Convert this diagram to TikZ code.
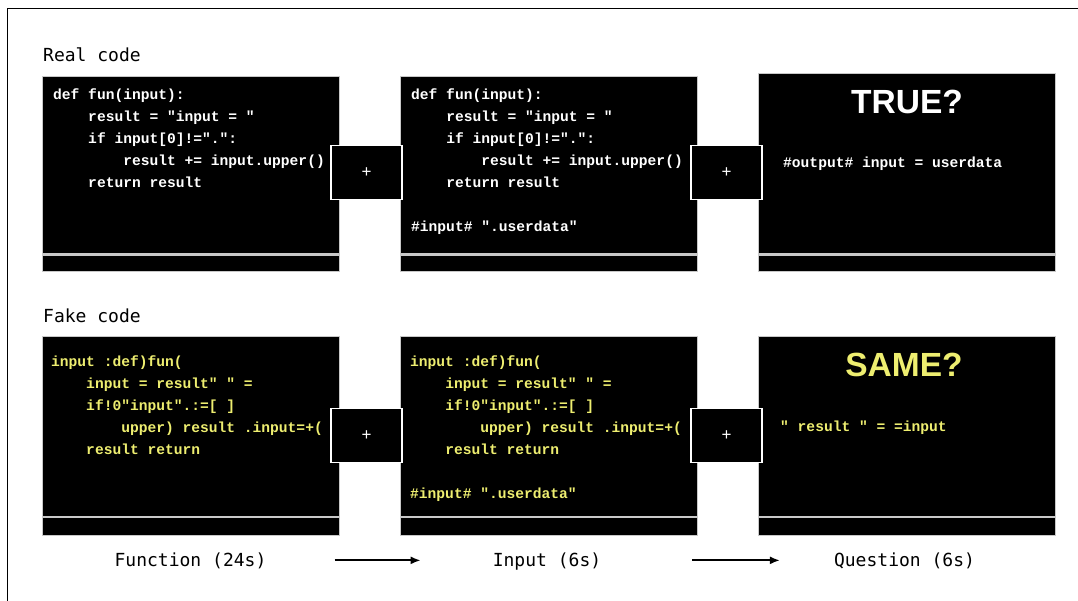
\documentclass[tikz,border=0pt]{standalone}
\usepackage{fontspec}
\setmonofont{Liberation Mono}
\newfontfamily\labelfont{DejaVu Sans Mono}
\newfontfamily\headfont{Liberation Sans}
\usetikzlibrary{arrows.meta}
\definecolor{fakeink}{RGB}{238,238,112}
\definecolor{rimgray}{RGB}{200,200,200}
\newcommand{\codetab}{\phantom{xxxx}}
\tikzset{
	panel/.style={fill=black, draw=rimgray, line width=0.6pt, minimum width=297pt, inner sep=0pt, anchor=north west},
	divider/.style={draw=rimgray, line width=2.2pt},
	plusbox/.style={fill=black, draw=white, line width=1.5pt, minimum width=71pt, minimum height=54pt, text=white, font=\headfont\fontsize{17}{17}\selectfont},
	code/.style={anchor=base west, align=left, inner sep=0pt, font=\ttfamily\bfseries\fontsize{14.6}{22}\selectfont},
	question/.style={inner sep=0pt, font=\headfont\bfseries\fontsize{33.5}{33.5}\selectfont},
	rowlabel/.style={anchor=base west, inner sep=0pt, font=\labelfont\fontsize{18}{18}\selectfont},
	phase/.style={anchor=base, inner sep=0pt, font=\labelfont\fontsize{18}{18}\selectfont},
	flow/.style={-{Latex[length=10pt, width=8pt]}, line width=1.8pt},
}

\begin{document}
\begin{tikzpicture}[x=1pt, y=-1pt]
	\useasboundingbox (0,0) rectangle (1078,601);
	\draw[line width=1pt] (7,601) -- (7,9) -- (1078,9);

	% real code row (code nodes sit on the baseline of their last line)
	\node[rowlabel] (reallabel) at (43,62) {Real code};
	\node[panel, minimum height=195pt] (realfun) at (42,76) {};
	\node[panel, minimum height=195pt] (realin) at (400,76) {};
	\node[panel, minimum height=198pt] (realq) at (758,73) {};
	\draw[divider] ([yshift=17pt]realfun.south west) -- ([yshift=17pt]realfun.south east);
	\draw[divider] ([yshift=17pt]realin.south west) -- ([yshift=17pt]realin.south east);
	\draw[divider] ([yshift=17pt]realq.south west) -- ([yshift=17pt]realq.south east);
	\node[plusbox] (realplusa) at (366.5,172.5) {+};
	\node[plusbox] (realplusb) at (726.5,172.5) {+};

	\node[code, text=white] (realfuncode) at (53,188) {def fun(input):\\
		\codetab result = "input = "\\
		\codetab if input[0]!=".":\\
		\codetab\codetab result += input.upper()\\
		\codetab return result};
	\node[code, text=white] (realincode) at (411,232) {def fun(input):\\
		\codetab result = "input = "\\
		\codetab if input[0]!=".":\\
		\codetab\codetab result += input.upper()\\
		\codetab return result\\[22pt]
		\#input\# ".userdata"};
	\node[question, text=white] (realword) at (907,102) {TRUE?};
	\node[code, text=white] (realout) at (783,168) {\#output\# input = userdata};

	% fake code row
	\node[rowlabel] (fakelabel) at (43,323) {Fake code};
	\node[panel, minimum height=199pt] (fakefun) at (42,336) {};
	\node[panel, minimum height=199pt] (fakein) at (400,336) {};
	\node[panel, minimum height=199pt] (fakeq) at (758,336) {};
	\draw[divider] ([yshift=19pt]fakefun.south west) -- ([yshift=19pt]fakefun.south east);
	\draw[divider] ([yshift=19pt]fakein.south west) -- ([yshift=19pt]fakein.south east);
	\draw[divider] ([yshift=19pt]fakeq.south west) -- ([yshift=19pt]fakeq.south east);
	\node[plusbox] (fakeplusa) at (366.5,435.5) {+};
	\node[plusbox] (fakeplusb) at (726.5,435.5) {+};

	\node[code, text=fakeink] (fakefuncode) at (51,454) {input :def)fun(\\
		\codetab input = result" " =\\
		\codetab if!0"input".:=[ ]\\
		\codetab\codetab upper) result .input=+(\\
		\codetab result return};
	\node[code, text=fakeink] (fakeincode) at (410,498) {input :def)fun(\\
		\codetab input = result" " =\\
		\codetab if!0"input".:=[ ]\\
		\codetab\codetab upper) result .input=+(\\
		\codetab result return\\[22pt]
		\#input\# ".userdata"};
	\node[question, text=fakeink] (fakeword) at (904,364.5) {SAME?};
	\node[code, text=fakeink] (fakeout) at (780,431) {" result " = =input};

	% timeline
	\node[phase] (funphase) at (190.5,566) {Function (24s)};
	\node[phase] (inphase) at (547,566) {Input (6s)};
	\node[phase] (qphase) at (904.5,566) {Question (6s)};
	\draw[flow, shorten <=68pt, shorten >=72pt] (funphase.east) -- (funphase.east -| inphase.west);
	\draw[flow, shorten <=91pt, shorten >=54pt] (funphase.east -| inphase.east) -- (funphase.east -| qphase.west);
\end{tikzpicture}
\end{document}
